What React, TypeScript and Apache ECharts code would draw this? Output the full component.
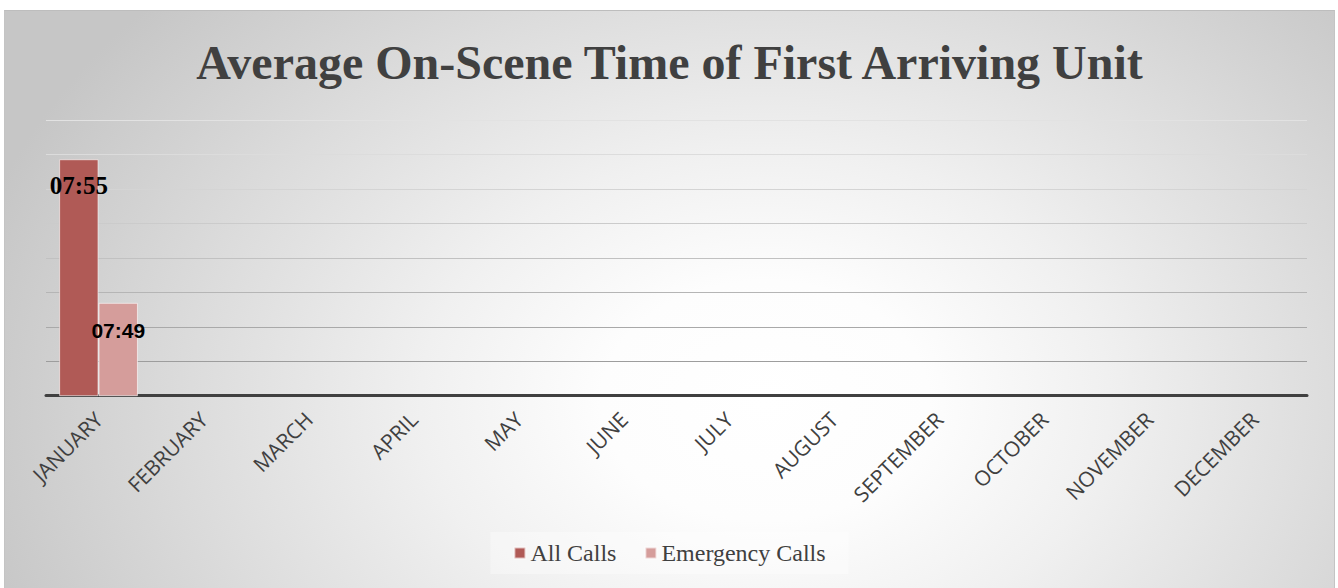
import React, { useEffect, useRef } from "react";
import * as echarts from "echarts";

// ---- data ----
const months = [
  "JANUARY", "FEBRUARY", "MARCH", "APRIL", "MAY", "JUNE",
  "JULY", "AUGUST", "SEPTEMBER", "OCTOBER", "NOVEMBER", "DECEMBER",
];
// average on-scene time in seconds (07:55 and 07:49)
const allCalls: (number | null)[] = [475, null, null, null, null, null, null, null, null, null, null, null];
const emergencyCalls: (number | null)[] = [469, null, null, null, null, null, null, null, null, null, null, null];
const seriesNames = ["All Calls", "Emergency Calls"];
const yStep = 1.44; // seconds
const yMin = 323 * yStep; // 465.12 s
const yMax = 331 * yStep; // 476.64 s

const gridColors = ["#909090", "#9d9d9d", "#a9a9a9", "#b5b5b5", "#c1c1c1", "#cbcbcb", "#d4d4d4", "#dcdcdc", "#e2e2e2"];

function fmt(sec: number): string {
  const m = Math.floor(sec / 60);
  const s = Math.round(sec - m * 60);
  return String(m).padStart(2, "0") + ":" + String(s).padStart(2, "0");
}

export default function App() {
  const ref = useRef<HTMLDivElement>(null);
  useEffect(() => {
    if (!ref.current) return;
    const chart = echarts.init(ref.current, undefined, { renderer: "svg" });
    chart.setOption({
      animation: false,
      title: {
        text: "Average On-Scene Time of First Arriving Unit",
        left: "center",
        top: 22,
        textStyle: {
          fontFamily: "Liberation Serif",
          fontWeight: "bold",
          fontSize: 48,
          color: "#404040",
        },
      },
      legend: {
        data: seriesNames,
        top: 521,
        left: "center",
        icon: "rect",
        itemWidth: 11,
        itemHeight: 11,
        itemGap: 28,
        padding: [9, 23, 9, 23],
        backgroundColor: "rgba(255,255,255,0.35)",
        textStyle: { fontFamily: "Liberation Serif", fontSize: 24, color: "#404040" },
      },
      grid: { left: 41, right: 27, top: 109, bottom: 192.3, containLabel: false },
      xAxis: {
        type: "category",
        data: months,
        axisLine: { onZero: false, lineStyle: { color: "#404040", width: 3 } },
        axisTick: { show: false },
        axisLabel: {
          rotate: 45,
          interval: 0,
          margin: 20,
          fontFamily: "Open Sans",
          fontSize: 21,
          color: "#404040",
        },
      },
      yAxis: {
        type: "value",
        min: yMin,
        max: yMax,
        interval: yStep,
        axisLabel: { show: false },
        axisLine: { show: false },
        axisTick: { show: false },
        splitLine: { lineStyle: { color: gridColors, width: 1 } },
      },
      series: [
        {
          name: seriesNames[0],
          type: "bar",
          data: allCalls,
          barGap: "0%",
          barCategoryGap: "25%",
          itemStyle: { color: "#b05a56", borderColor: "rgba(255,255,255,0.6)", borderWidth: 1 },
          label: {
            show: true,
            position: "insideTop",
            distance: 14,
            formatter: (p: any) => fmt(p.value),
            fontFamily: "Liberation Serif",
            fontWeight: "bold",
            fontSize: 25,
            color: "#000",
          },
        },
        {
          name: seriesNames[1],
          type: "bar",
          data: emergencyCalls,
          itemStyle: { color: "#d59d9b", borderColor: "rgba(255,255,255,0.6)", borderWidth: 1 },
          label: {
            show: true,
            position: "insideTop",
            distance: 17,
            formatter: (p: any) => fmt(p.value),
            fontFamily: "Liberation Sans",
            fontWeight: "bold",
            fontSize: 21,
            color: "#000",
          },
        },
      ],
    });
    return () => chart.dispose();
  }, []);
  return (
    <div
      ref={ref}
      style={{
        position: "absolute",
        left: 4,
        top: 10,
        width: 1331,
        height: 578,
        boxSizing: "border-box",
        borderTop: "1px solid #bdbdbd",
        borderLeft: "1px solid #c4c4c4",
        borderRight: "1px solid #c4c4c4",
        background:
          "radial-gradient(ellipse 820px 600px at 760px 390px, #ffffff 0%, #fdfdfd 20%, #f0f0f0 42%, #dcdcdc 70%, #c6c6c6 100%)",
      }}
    />
  );
}
